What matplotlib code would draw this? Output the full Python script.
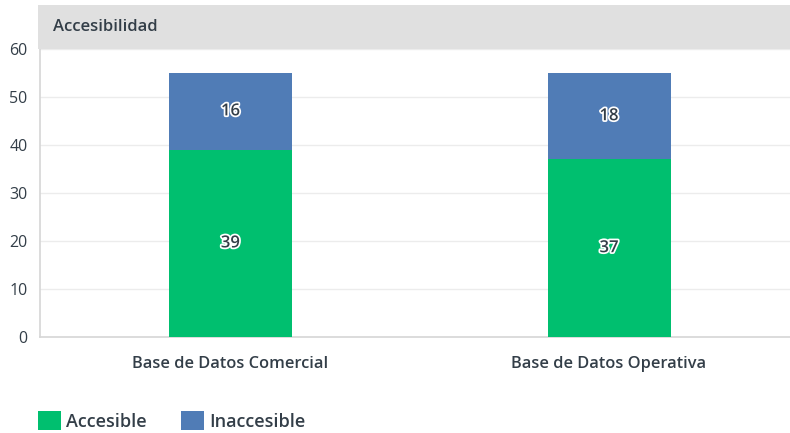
import matplotlib
matplotlib.use("Agg")
import matplotlib.pyplot as plt
import matplotlib.patheffects as pe
from matplotlib.patches import Rectangle
import numpy as np

categories = ["Base de Datos Comercial", "Base de Datos Operativa"]
accesible = [39, 37]
inaccesible = [16, 18]
series_names = ["Accesible", "Inaccesible"]
yticks = [0, 10, 20, 30, 40, 50, 60]
title = "Accesibilidad"

GREEN = "#00bf6f"
BLUE = "#507cb6"
TXT = "#333e48"

plt.rcParams['font.family'] = ['Open Sans', 'DejaVu Sans']

W, H = 790, 433
fig = plt.figure(figsize=(W / 100, H / 100), dpi=100)

# axes: left 40, right 790, top 49, bottom 337 (pixels)
ax = fig.add_axes([40 / W, 1 - 337 / H, (790 - 40) / W, (337 - 49) / H])

x = np.arange(len(categories))
width = 0.325
b1 = ax.bar(x, accesible, width, color=GREEN, label=series_names[0], zorder=3)
b2 = ax.bar(x, inaccesible, width, bottom=accesible, color=BLUE, label=series_names[1], zorder=3)

halo = [pe.withStroke(linewidth=2.5, foreground="white")]
for i in range(len(categories)):
    ax.text(x[i], accesible[i] / 2, str(accesible[i]), ha="center", va="center",
            fontsize=12, fontweight="semibold", color=TXT, path_effects=halo, zorder=5)
    ax.text(x[i], accesible[i] + inaccesible[i] / 2, str(inaccesible[i]), ha="center",
            va="center", fontsize=12, fontweight="semibold", color=TXT,
            path_effects=halo, zorder=5)

ax.set_xlim(-0.503, 1.478)
ax.set_ylim(0, 60)
ax.set_yticks(yticks)
ax.set_yticklabels([str(v) for v in yticks], fontsize=11.5, color=TXT, fontweight="medium")
ax.set_xticks(x)
ax.set_xticklabels(categories, fontsize=11.8, color=TXT, fontweight="semibold")
ax.tick_params(axis="both", length=0)
ax.tick_params(axis="y", pad=9)
ax.tick_params(axis="x", pad=14)
ax.grid(axis="y", color="#ececec", linewidth=1, zorder=0)
for s in ["top", "right"]:
    ax.spines[s].set_visible(False)
ax.spines["left"].set_color("#d6d6d6")
ax.spines["bottom"].set_color("#d6d6d6")
ax.spines["left"].set_linewidth(1.2)
ax.spines["bottom"].set_linewidth(1.2)

# Title bar
fig.patches.append(Rectangle((38 / W, 1 - 49 / H), (790 - 38) / W, 44 / H,
                             transform=fig.transFigure, facecolor="#e0e0e0",
                             edgecolor="none", zorder=0))
fig.text(53 / W, 1 - 27 / H, title, fontsize=12, fontweight="semibold",
         color=TXT, va="center", ha="left")

# Legend
leg = fig.legend(handles=[b1, b2], labels=series_names, loc="lower left",
                 bbox_to_anchor=(22 / W, -14 / H), ncol=2, frameon=False,
                 fontsize=13, handlelength=1.25, handleheight=1.25,
                 handletextpad=0.3, columnspacing=1.9)
for t in leg.get_texts():
    t.set_color(TXT)
    t.set_fontweight("semibold")

fig.savefig("out.png", dpi=100)
